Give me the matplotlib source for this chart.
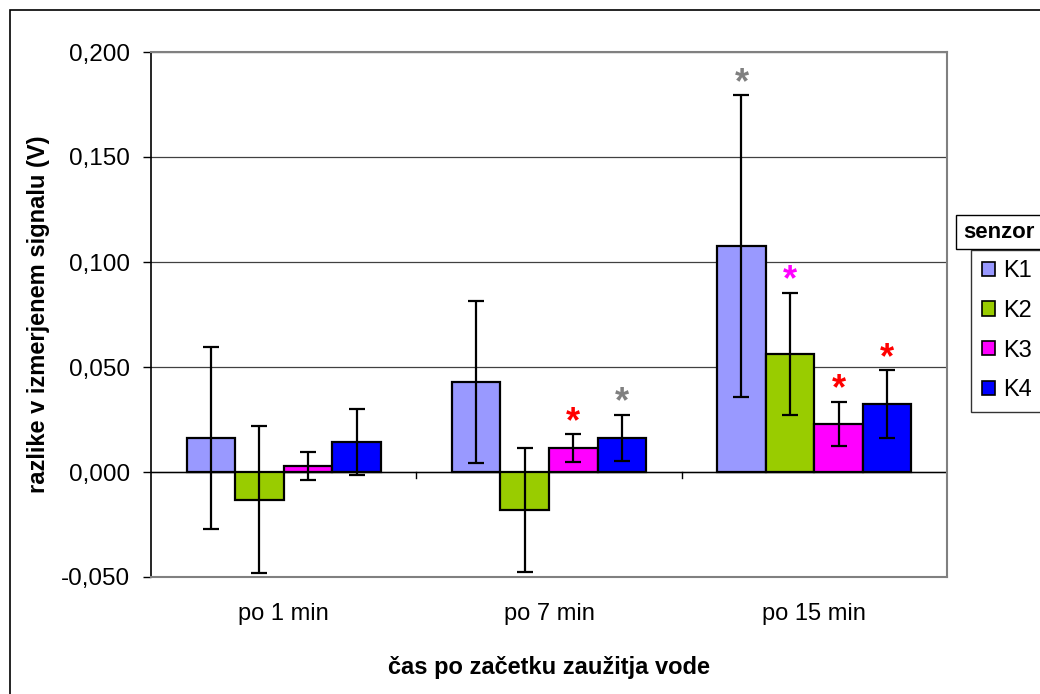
import numpy as np
import matplotlib.pyplot as plt
from matplotlib.patches import Patch, Rectangle
from matplotlib.ticker import FuncFormatter
from matplotlib.transforms import offset_copy

plt.rcParams['font.family'] = ['Liberation Sans', 'DejaVu Sans']

groups = ["po 1 min", "po 7 min", "po 15 min"]
series = ["K1", "K2", "K3", "K4"]
colors = ["#9999FF", "#99CC00", "#FF00FF", "#0000FF"]

# mean per series, one value per group
k1 = [0.0162, 0.0429, 0.1076]
k2 = [-0.0133, -0.0180, 0.0562]
k3 = [0.0030, 0.0114, 0.0229]
k4 = [0.0143, 0.0162, 0.0324]
# +/- error
k1_err = [0.0432, 0.0385, 0.0718]
k2_err = [0.0350, 0.0296, 0.0290]
k3_err = [0.0066, 0.0065, 0.0106]
k4_err = [0.0155, 0.0110, 0.0160]

# significance marks: (group index, series index, colour)
marks = [(1, 2, "#FF0000"), (1, 3, "#808080"),
         (2, 0, "#808080"), (2, 1, "#FF00FF"),
         (2, 2, "#FF0000"), (2, 3, "#FF0000")]

values = [k1, k2, k3, k4]
errors = [k1_err, k2_err, k3_err, k4_err]

W, H = 1040, 694
fig = plt.figure(figsize=(W / 100, H / 100), dpi=100)
ax = fig.add_axes([151 / W, (H - 577) / H, (947 - 151) / W, (577 - 52) / H])

x = np.arange(len(groups))
bw = 0.183
for i, (vals, errs, c, name) in enumerate(zip(values, errors, colors, series)):
    pos = x + (i - 1.5) * bw
    ax.bar(pos, vals, width=bw, color=c, edgecolor="black", linewidth=1.6,
           label=name, zorder=3)
    ax.errorbar(pos, vals, yerr=errs, fmt="none", ecolor="black",
                elinewidth=1.6, capsize=5.5, capthick=1.6, zorder=4)

for g, s, c in marks:
    top = values[s][g] + errors[s][g]
    xp = g + (s - 1.5) * bw
    tr = offset_copy(ax.transData, fig=fig, x=0, y=-4, units="points")
    ax.text(xp, top, "*", color=c, fontsize=26, fontweight="bold",
            ha="center", va="bottom", transform=tr, zorder=5)

ax.set_xlim(-0.5, 2.5)
ax.set_ylim(-0.05, 0.2)
ax.set_yticks(np.arange(-0.05, 0.2001, 0.05))
ax.yaxis.set_major_formatter(FuncFormatter(lambda v, p: f"{v:.3f}".replace(".", ",")))
ax.set_xticks(x)
ax.set_xticklabels(groups)
ax.tick_params(axis="x", length=0, pad=19, labelsize=17)
ax.tick_params(axis="y", length=6, width=1, pad=9, labelsize=17.5, color="black")
ax.grid(axis="y", color="#404040", linewidth=0.9, zorder=0)
ax.set_axisbelow(True)

ax.axhline(0, color="black", linewidth=1, zorder=2)
for b in [0.5, 1.5]:
    ax.plot([b, b], [0, -0.0028], color="black", linewidth=1, zorder=2,
            clip_on=False)

for side in ["top", "right", "bottom"]:
    ax.spines[side].set_color("#808080")
    ax.spines[side].set_linewidth(1.5)
ax.spines["left"].set_color("black")
ax.spines["left"].set_linewidth(1.2)

ax.set_ylabel("razlike v izmerjenem signalu (V)", fontsize=17,
              fontweight="bold", labelpad=8)
ax.set_xlabel("čas po začetku zaužitja vode", fontsize=17,
              fontweight="bold", labelpad=22)

handles = [Patch(facecolor=c, edgecolor="black", linewidth=1.2) for c in colors]
leg = fig.legend(handles, series, loc="lower left",
                 bbox_to_anchor=(971 / W, (H - 412) / H),
                 bbox_transform=fig.transFigure, borderaxespad=0,
                 frameon=True, fancybox=False, fontsize=17,
                 handlelength=0.55, handleheight=0.55, handletextpad=0.35,
                 labelspacing=0.75, borderpad=0.45)
leg.get_frame().set_edgecolor("black")
leg.get_frame().set_linewidth(1)

fig.text(963 / W, (H - 232) / H, "senzor", fontsize=16, fontweight="bold",
         ha="left", va="center",
         bbox=dict(boxstyle="square,pad=0.3", facecolor="white",
                   edgecolor="black", linewidth=1))

fig.patches.append(Rectangle((10 / W, -0.05), 1.2, (H - 10) / H + 0.05,
                             transform=fig.transFigure, fill=False,
                             edgecolor="black", linewidth=1.2))

fig.savefig("out.png", dpi=100)
